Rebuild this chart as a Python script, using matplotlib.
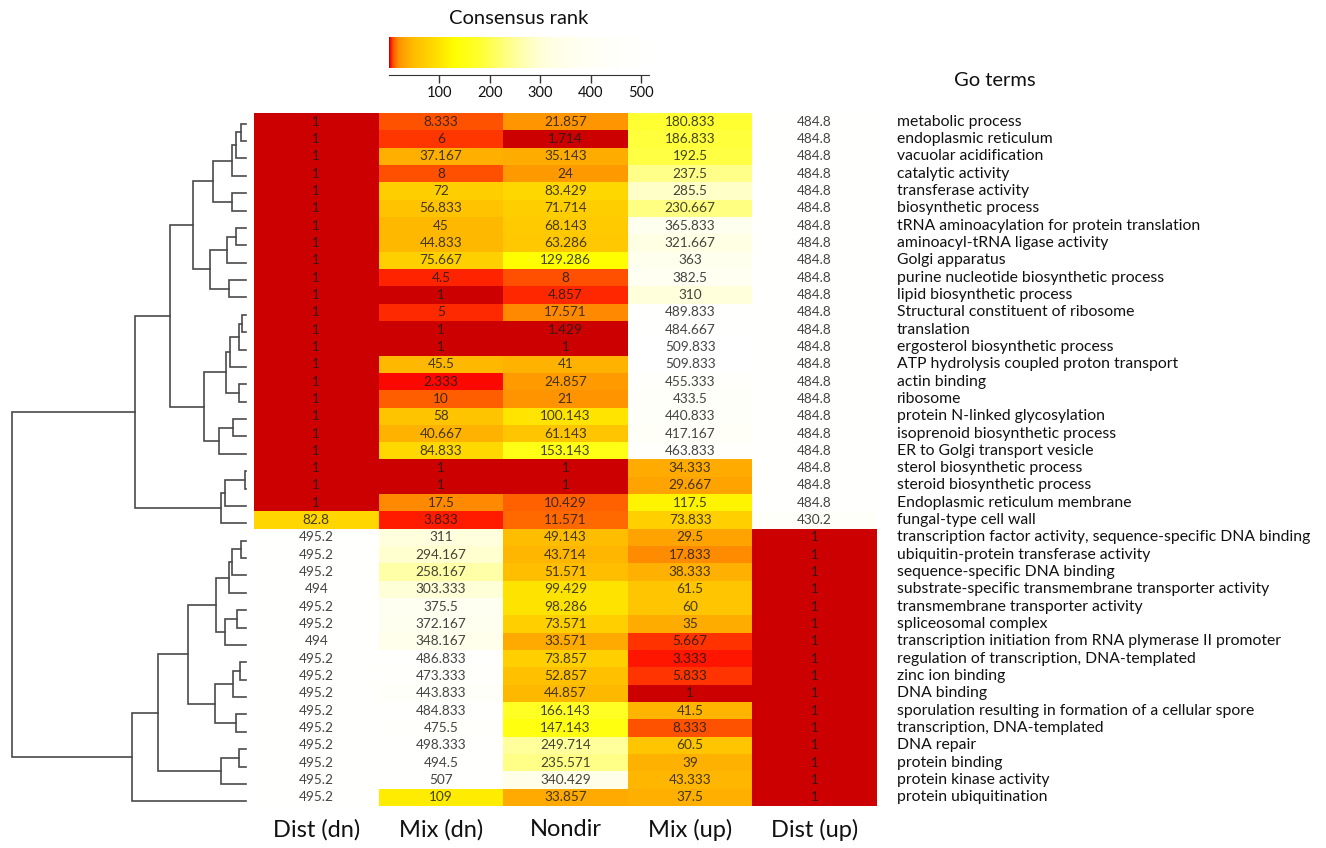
import matplotlib
matplotlib.use("Agg")
import matplotlib.pyplot as plt
import numpy as np
from matplotlib.colors import LinearSegmentedColormap, Normalize
from matplotlib.transforms import blended_transform_factory

plt.rcParams['font.family'] = ['Lato', 'DejaVu Sans']

# ---------------------------------------------------------------- data
columns = ["Dist (dn)", "Mix (dn)", "Nondir", "Mix (up)", "Dist (up)"]

go_terms = [
    "metabolic process", "endoplasmic reticulum", "vacuolar acidification",
    "catalytic activity", "transferase activity", "biosynthetic process",
    "tRNA aminoacylation for protein translation", "aminoacyl-tRNA ligase activity",
    "Golgi apparatus", "purine nucleotide biosynthetic process",
    "lipid biosynthetic process", "Structural constituent of ribosome",
    "translation", "ergosterol biosynthetic process",
    "ATP hydrolysis coupled proton transport", "actin binding", "ribosome",
    "protein N-linked glycosylation", "isoprenoid biosynthetic process",
    "ER to Golgi transport vesicle", "sterol biosynthetic process",
    "steroid biosynthetic process", "Endoplasmic reticulum membrane",
    "fungal-type cell wall",
    "transcription factor activity, sequence-specific DNA binding",
    "ubiquitin-protein transferase activity", "sequence-specific DNA binding",
    "substrate-specific transmembrane transporter activity",
    "transmembrane transporter activity", "spliceosomal complex",
    "transcription initiation from RNA plymerase II promoter",
    "regulation of transcription, DNA-templated", "zinc ion binding",
    "DNA binding", "sporulation resulting in formation of a cellular spore",
    "transcription, DNA-templated", "DNA repair", "protein binding",
    "protein kinase activity", "protein ubiquitination",
]

dist_dn = [1] * 23 + [82.8] + [495.2, 495.2, 495.2, 494, 495.2, 495.2, 494,
                               495.2, 495.2, 495.2, 495.2, 495.2, 495.2,
                               495.2, 495.2, 495.2]
mix_dn = [8.333, 6, 37.167, 8, 72, 56.833, 45, 44.833, 75.667, 4.5, 1, 5, 1, 1,
          45.5, 2.333, 10, 58, 40.667, 84.833, 1, 1, 17.5, 3.833,
          311, 294.167, 258.167, 303.333, 375.5, 372.167, 348.167, 486.833,
          473.333, 443.833, 484.833, 475.5, 498.333, 494.5, 507, 109]
nondir = [21.857, 1.714, 35.143, 24, 83.429, 71.714, 68.143, 63.286, 129.286,
          8, 4.857, 17.571, 1.429, 1, 41, 24.857, 21, 100.143, 61.143, 153.143,
          1, 1, 10.429, 11.571,
          49.143, 43.714, 51.571, 99.429, 98.286, 73.571, 33.571, 73.857,
          52.857, 44.857, 166.143, 147.143, 249.714, 235.571, 340.429, 33.857]
mix_up = [180.833, 186.833, 192.5, 237.5, 285.5, 230.667, 365.833, 321.667,
          363, 382.5, 310, 489.833, 484.667, 509.833, 509.833, 455.333, 433.5,
          440.833, 417.167, 463.833, 34.333, 29.667, 117.5, 73.833,
          29.5, 17.833, 38.333, 61.5, 60, 35, 5.667, 3.333, 5.833, 1, 41.5,
          8.333, 60.5, 39, 43.333, 37.5]
dist_up = [484.8] * 23 + [430.2] + [1] * 16

cbar_ticks = [100, 200, 300, 400, 500]

# hierarchical clustering of the rows: (child_a, child_b, height);
# ids 0-39 are rows, id 40+k is the k-th merge below
linkage = [
    (0, 1, 5.3), (40, 2, 10), (41, 3, 13.7), (4, 5, 14.3), (42, 43, 33.3),
    (6, 7, 10), (45, 8, 18.7), (9, 10, 17), (46, 47, 36), (44, 48, 53.3),
    (11, 12, 4.3), (50, 13, 6.7), (51, 14, 16), (15, 16, 6.7), (52, 53, 20),
    (17, 18, 12.7), (55, 19, 26.7), (54, 56, 41.7), (49, 57, 75.7),
    (20, 21, 1.5), (59, 22, 21), (60, 23, 25.5), (58, 61, 111),
    (24, 25, 5.3), (63, 26, 13.7), (64, 27, 17), (28, 29, 9.3), (66, 30, 21),
    (65, 67, 30), (31, 32, 6), (69, 33, 13.3), (34, 35, 10), (70, 71, 31),
    (68, 72, 58.3), (36, 37, 6.7), (74, 38, 25.3), (73, 75, 87.7),
    (76, 39, 114.3), (62, 77, 234.3),
]

# colour scale for consensus rank
rank_max = 515
cmap_nodes = [
    (0, "#cc0000"), (1.8, "#cc0000"), (2.3, "#ff0a00"), (3.5, "#ff1800"),
    (5, "#ff2a00"), (8, "#ff5000"), (12, "#ff6c00"), (18, "#ff8c00"),
    (25, "#ff9c00"), (35, "#ffac00"), (50, "#ffbe00"), (75, "#ffd000"),
    (100, "#ffe400"), (130, "#ffff00"), (180, "#ffff30"), (230, "#ffff80"),
    (260, "#ffffaa"), (290, "#ffffcc"), (320, "#ffffe4"), (380, "#fffff2"),
    (440, "#fffffa"), (515, "#ffffff"),
]
cmap = LinearSegmentedColormap.from_list(
    "rank", [(v / rank_max, c) for v, c in cmap_nodes], N=4096)
norm = Normalize(0, rank_max)

# ---------------------------------------------------------------- figure
W, H = 1326, 848
fig = plt.figure(figsize=(W / 100, H / 100), dpi=100)
fig.patch.set_facecolor("white")


def px_axes(left, top, width, height):
    return fig.add_axes([left / W, 1 - (top + height) / H, width / W, height / H])


values = np.array([dist_dn, mix_dn, nondir, mix_up, dist_up], dtype=float).T
n_rows, n_cols = values.shape

# heatmap
ax = px_axes(254, 113, 623, 693)
ax.pcolormesh(np.arange(n_cols + 1), np.arange(n_rows + 1), values,
              cmap=cmap, norm=norm, shading="flat")
ax.set_xlim(0, n_cols)
ax.set_ylim(n_rows, 0)
ax.axis("off")


def fmt(v):
    return f"{v:.3f}".rstrip("0").rstrip(".")


for r in range(n_rows):
    for c in range(n_cols):
        ax.text(c + 0.5, r + 0.5, fmt(values[r, c]), ha="center", va="center",
                fontsize=9.8, color="#1a1a1a", alpha=0.82)

# row labels
tr = blended_transform_factory(fig.transFigure, ax.transData)
for r, term in enumerate(go_terms):
    ax.text(897 / W, r + 0.5, term, transform=tr, ha="left", va="center",
            fontsize=11.3, color="#111111", clip_on=False)

# column labels
for c, name in enumerate(columns):
    fig.text((254 + 623 * (c + 0.5) / n_cols) / W, 1 - 830 / H, name,
             ha="center", va="center", fontsize=17, color="#111111")

fig.text(995 / W, 1 - 80 / H, "Go terms", ha="center", va="center",
         fontsize=14.5, color="#111111")

# dendrogram
dax = px_axes(0, 115, 254, 695)
dax.set_xlim(246, -8)
dax.set_ylim(n_rows, 0)
dax.axis("off")
pos = {i: (0.0, i + 0.5) for i in range(n_rows)}
for k, (a, b, h) in enumerate(linkage):
    ha_, ya = pos[a]
    hb, yb = pos[b]
    dax.plot([ha_, h, h, hb], [ya, ya, yb, yb], color="#4a4a4a", lw=1.2,
             solid_joinstyle="miter")
    pos[n_rows + k] = (h, (ya + yb) / 2)

# colour bar
cax = px_axes(389, 37, 260, 31)
grad = np.linspace(0, rank_max, 1200)[None, :]
cax.imshow(grad, cmap=cmap, norm=norm, aspect="auto",
           extent=[0, rank_max, 0, 1])
cax.set_xlim(0, rank_max)
cax.set_ylim(0, 1)
for s in ["top", "left", "right"]:
    cax.spines[s].set_visible(False)
cax.spines["bottom"].set_position(("outward", 5))
cax.spines["bottom"].set_color("#333333")
cax.set_yticks([])
cax.set_xticks(cbar_ticks)
cax.tick_params(axis="x", length=6, width=1, color="#333333", labelsize=10.5,
                labelcolor="#111111", pad=2)
fig.text(519 / W, 1 - 18 / H, "Consensus rank", ha="center", va="center",
         fontsize=14.5, color="#111111")

fig.savefig("out.png", dpi=100, facecolor="white")
